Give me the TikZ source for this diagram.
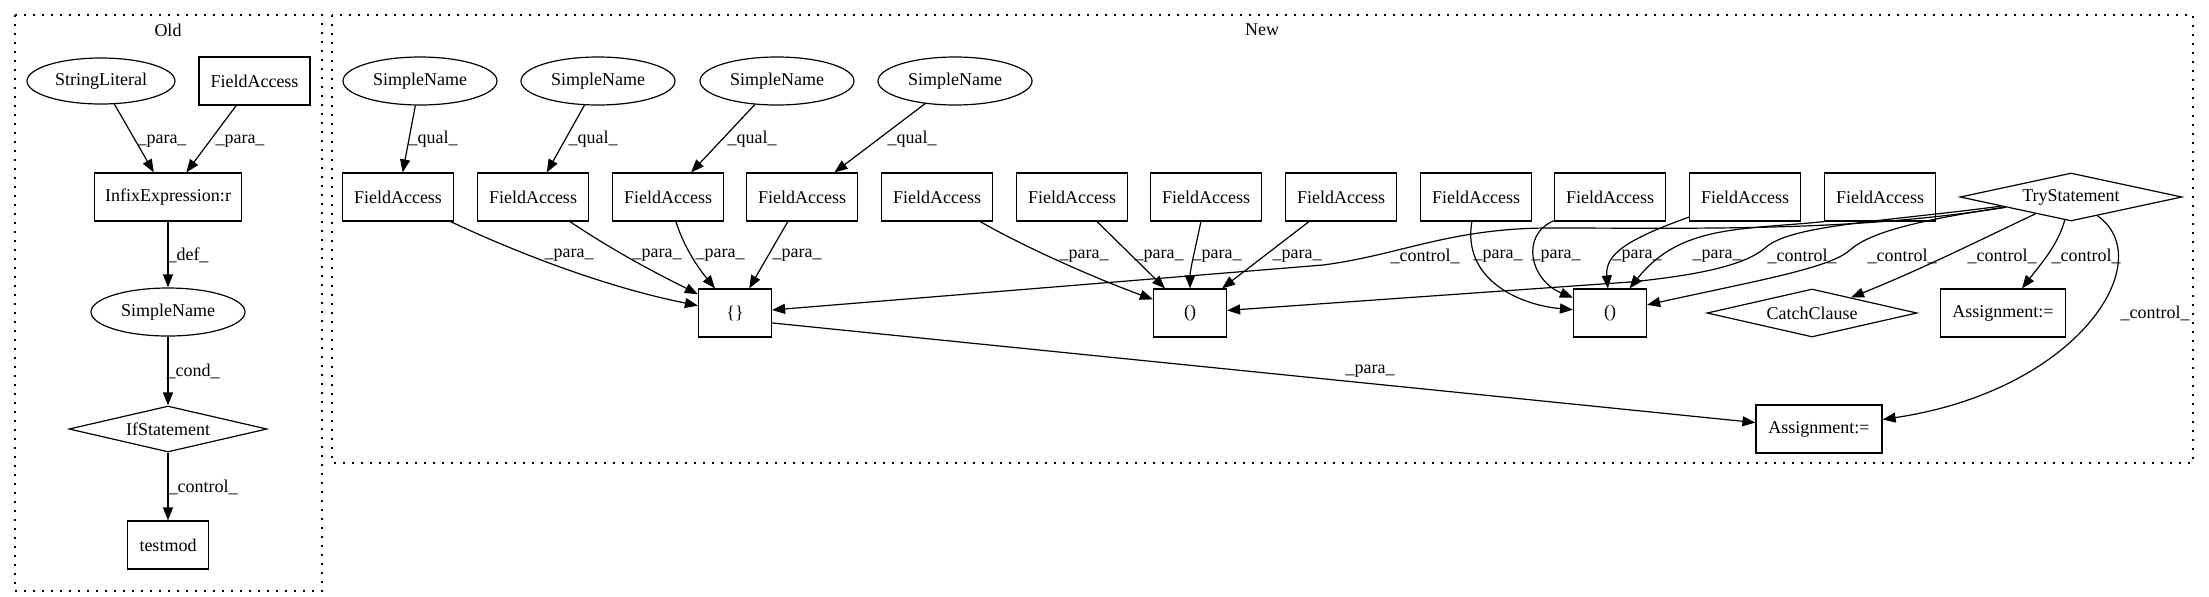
\documentclass[tikz,border=0pt]{standalone}
\usepackage{fontspec}
\setmainfont{Liberation Serif}
\usetikzlibrary{shapes.geometric,arrows.meta}
\begin{document}
\begin{tikzpicture}[x=0.5pt,y=-0.5pt,
  every node/.style={font=\fontsize{9pt}{10pt}\selectfont},
  box/.style={draw,rectangle,line width=0.6pt,minimum width=55.5pt,minimum height=24pt,inner sep=0pt},
  ell/.style={draw,ellipse,line width=0.6pt,minimum width=77pt,minimum height=24pt,inner sep=0pt},
  dia/.style={draw,diamond,line width=0.6pt,inner sep=0pt,shape aspect=4.6,minimum height=24pt},
  lab/.style={inner sep=0pt},
  arr/.style={-{Triangle[length=6.5pt,width=5pt]},line width=0.6pt},
  clus/.style={draw,line width=0.6pt,dash pattern=on 1pt off 3.5pt}
]
\useasboundingbox (0,0) rectangle (2209,596);
% clusters
\draw[clus] (15,15) rectangle (322,591);
\draw[clus] (332,15) rectangle (2193,463);
\node[lab] (toldlab) at (168,30) {Old};
\node[lab] (tnewlab) at (1262,30) {New};

% Old nodes
\node[ell,minimum width=74pt,minimum height=23pt] (ostr) at (101,81) {StringLiteral};
\node[box] (ofa) at (254.5,81) {FieldAccess};
\node[box,minimum width=73.5pt] (oinf) at (168,197) {InfixExpression:r};
\node[ell] (osn) at (168,312) {SimpleName};
\node[dia,minimum width=99pt,minimum height=23pt] (oif) at (168,429) {IfStatement};
\node[box,minimum width=40.5pt] (otm) at (168,545) {testmod};

\draw[arr] (ostr) -- (oinf);
\draw[arr] (ofa) -- (oinf);
\draw[arr] (oinf) -- (osn);
\draw[arr] (osn) -- (oif);
\draw[arr] (oif) -- (otm);
\node[lab] (lo1) at (162,141) {\_para\_};
\node[lab] (lo2) at (240,141) {\_para\_};
\node[lab] (lo3) at (188,255) {\_def\_};
\node[lab] (lo4) at (193,371) {\_cond\_};
\node[lab] (lo5) at (203,487) {\_control\_};

% New nodes
\node[ell] (sn1) at (420,81) {SimpleName};
\node[ell] (sn2) at (598,81) {SimpleName};
\node[ell] (sn3) at (777,81) {SimpleName};
\node[ell] (sn4) at (955,81) {SimpleName};
\node[box] (fa1) at (398,197) {FieldAccess};
\node[box] (fa2) at (533,197) {FieldAccess};
\node[box] (fa3) at (668,197) {FieldAccess};
\node[box] (fa4) at (802,197) {FieldAccess};
\node[box] (fa5) at (937,197) {FieldAccess};
\node[box] (fa6) at (1072,197) {FieldAccess};
\node[box] (fa7) at (1206,197) {FieldAccess};
\node[box] (fa8) at (1341,197) {FieldAccess};
\node[box] (fa9) at (1476,197) {FieldAccess};
\node[box] (fa10) at (1610,197) {FieldAccess};
\node[box] (fa11) at (1745,197) {FieldAccess};
\node[box] (fa12) at (1880,197) {FieldAccess};
\node[dia,minimum width=111pt] (try) at (2071,197) {TryStatement};
\node[box,minimum width=36.5pt] (br) at (735,313) {\{\}};
\node[box,minimum width=36.5pt] (p1) at (1190,313) {()};
\node[box,minimum width=36.5pt] (p2) at (1610,313) {()};
\node[dia,minimum width=105pt] (catch) at (1812,313) {CatchClause};
\node[box,minimum width=62.5pt] (as1) at (2003,313) {Assignment:=};
\node[box,minimum width=63pt] (as2) at (1819,429) {Assignment:=};

% qual edges
\draw[arr] (sn1) -- (fa1);
\draw[arr] (sn2) -- (fa2);
\draw[arr] (sn3) -- (fa3);
\draw[arr] (sn4) -- (fa4);
\node[lab] (lq1) at (433,139) {\_qual\_};
\node[lab] (lq2) at (593,139) {\_qual\_};
\node[lab] (lq3) at (752,139) {\_qual\_};
\node[lab] (lq4) at (912,139) {\_qual\_};

% para edges to {}
\draw[arr] (fa1) .. controls (537,262) and (620,290) .. (br);
\draw[arr] (fa2) .. controls (620,255) and (660,275) .. (br);
\draw[arr] (fa3) .. controls (685,250) and (700,270) .. (br);
\draw[arr] (fa4) -- (br);
\node[lab] (lp1) at (569,255) {\_para\_};
\node[lab] (lp2) at (657,255) {\_para\_};
\node[lab] (lp3) at (720,255) {\_para\_};
\node[lab] (lp4) at (797,255) {\_para\_};

% para edges to p1
\draw[arr] (fa5) .. controls (1030,250) and (1100,280) .. (p1);
\draw[arr] (fa6) -- (p1);
\draw[arr] (fa7) .. controls (1195,250) and (1190,270) .. (p1);
\draw[arr] (fa8) -- (p1);
\node[lab] (lp5) at (1084,256) {\_para\_};
\node[lab] (lp6) at (1159,256) {\_para\_};
\node[lab] (lp7) at (1217,256) {\_para\_};
\node[lab] (lp8) at (1297,256) {\_para\_};

% para edges to p2
\draw[arr] (fa9) .. controls (1462,280) and (1520,305) .. (p2);
\draw[arr] (fa10) .. controls (1520,235) and (1530,280) .. (p2);
\draw[arr] (fa11) .. controls (1625,240) and (1605,255) .. (p2);
\draw[arr] (fa12.south west) .. controls (1740,230) and (1680,225) .. (p2);
\node[lab] (lp9) at (1498,256) {\_para\_};
\node[lab] (lp10) at (1556,256) {\_para\_};
\node[lab] (lp11) at (1637,256) {\_para\_};
\node[lab] (lp12) at (1717,256) {\_para\_};

% control edges
\draw[arr] (try) .. controls (1850,232) and (1700,228) .. (1550,228) .. controls (1450,228) and (1400,255) .. (1323,265) -- (br);
\draw[arr] (try) .. controls (1880,222) and (1790,225) .. (1765,248) .. controls (1745,265) and (1700,275) .. (1630,282) -- (p1);
\draw[arr] (try) .. controls (1920,220) and (1870,232) .. (1850,250) .. controls (1830,268) and (1760,280) .. (p2);
\draw[arr] (try) .. controls (1980,240) and (1920,270) .. (catch);
\draw[arr] (try) .. controls (2058,245) and (2040,265) .. (as1);
\draw[arr] (try) .. controls (2160,260) and (2080,390) .. (as2);
\node[lab] (lc1) at (1425,256) {\_control\_};
\node[lab] (lc2) at (1802,256) {\_control\_};
\node[lab] (lc3) at (1902,256) {\_control\_};
\node[lab] (lc4) at (2002,256) {\_control\_};
\node[lab] (lc5) at (2086,256) {\_control\_};
\node[lab] (lc6) at (2155,313) {\_control\_};

% {} -> Assignment
\draw[arr] (br.-15) -- (as2);
\node[lab] (lpa) at (1370,371) {\_para\_};
\end{tikzpicture}
\end{document}
